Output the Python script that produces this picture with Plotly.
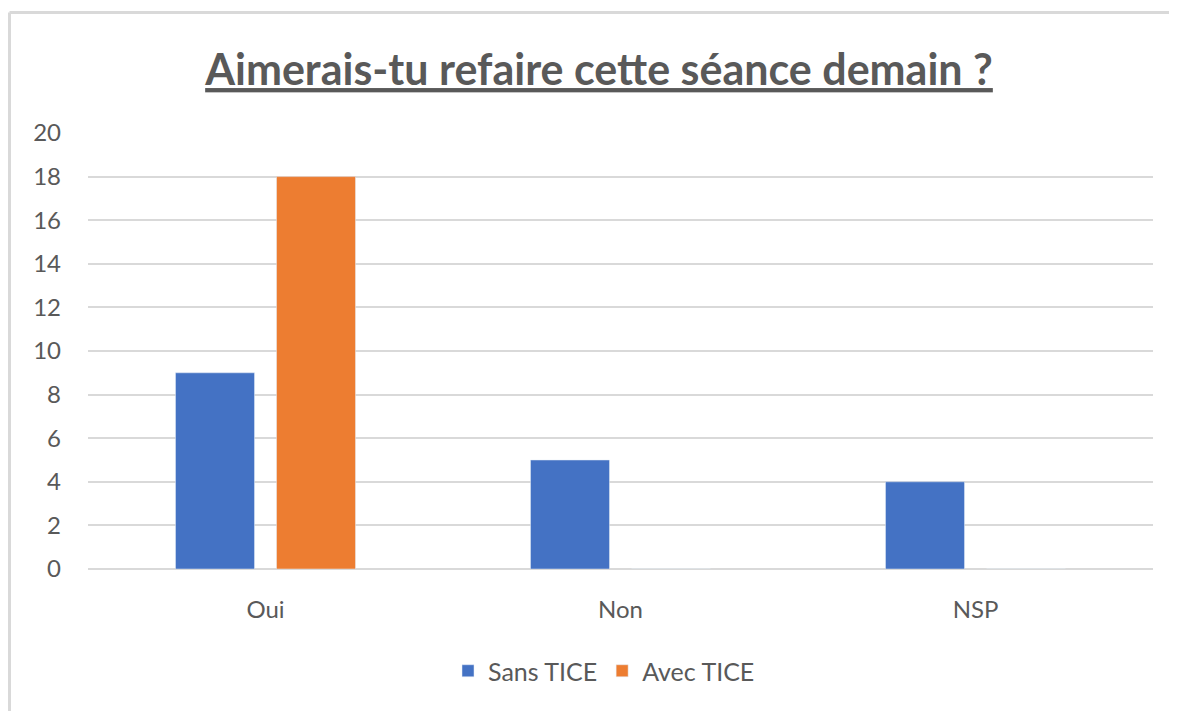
import plotly.graph_objects as go

# donnees
categories = ["Oui", "Non", "NSP"]
sans_tice = [9, 5, 4]
avec_tice = [18, 0, 0]
y_ticks = [0, 2, 4, 6, 8, 10, 12, 14, 16, 18, 20]

# la page html a une marge de 8px : tout est decale de 8px
off = 8
W, H = 1177 - off, 711 - off
ml, mr, mt, mb = 88 - off, 24, 133 - off, 142
pw = W - ml - mr
ph = H - mt - mb

def px_x(p):
    return (p - off - ml) / pw

def px_y(p):
    return (H - mb - (p - off)) / ph

txt = "#595959"
font = "Lato"

fig = go.Figure()
fig.add_trace(go.Bar(x=categories, y=sans_tice, name="Sans TICE", marker_color="#4472C4"))
fig.add_trace(go.Bar(x=categories, y=avec_tice, name="Avec TICE", marker_color="#ED7D31"))

fig.update_layout(
    width=W, height=H,
    margin=dict(l=ml, r=mr, t=mt, b=mb),
    paper_bgcolor="white", plot_bgcolor="white",
    barmode="group", bargap=0.431, bargroupgap=0.218,
    font=dict(family=font, color=txt, size=24),
    title=dict(text="<b><u>Aimerais-tu refaire cette séance demain ?</u></b>",
               x=px_x(599), xref="paper", xanchor="center",
               y=1 - (70 - off) / H, yref="container", yanchor="middle",
               font=dict(family=font, size=43, color=txt)),
    legend=dict(orientation="h", x=px_x(604), xanchor="center",
                y=px_y(671), yanchor="middle",
                font=dict(size=25, color=txt)),
    showlegend=True,
)
fig.update_yaxes(range=[0, 20], tickvals=y_ticks, showgrid=True, gridcolor="#d9d9d9",
                 gridwidth=2, zeroline=True, zerolinecolor="#d9d9d9", zerolinewidth=2,
                 ticks="", ticklabelstandoff=26, showline=False)
fig.update_xaxes(showgrid=False, ticks="", showline=False, ticklabelstandoff=24)

# bordure du cadre (haut et gauche, le reste est coupe)
fig.add_shape(type="line", xref="paper", yref="paper",
              x0=px_x(9.5), x1=px_x(1200), y0=px_y(12.5), y1=px_y(12.5),
              line=dict(color="#d9d9d9", width=3))
fig.add_shape(type="line", xref="paper", yref="paper",
              x0=px_x(9.5), x1=px_x(9.5), y0=px_y(12.5), y1=px_y(730),
              line=dict(color="#d9d9d9", width=3))

fig.write_html("out.html")
